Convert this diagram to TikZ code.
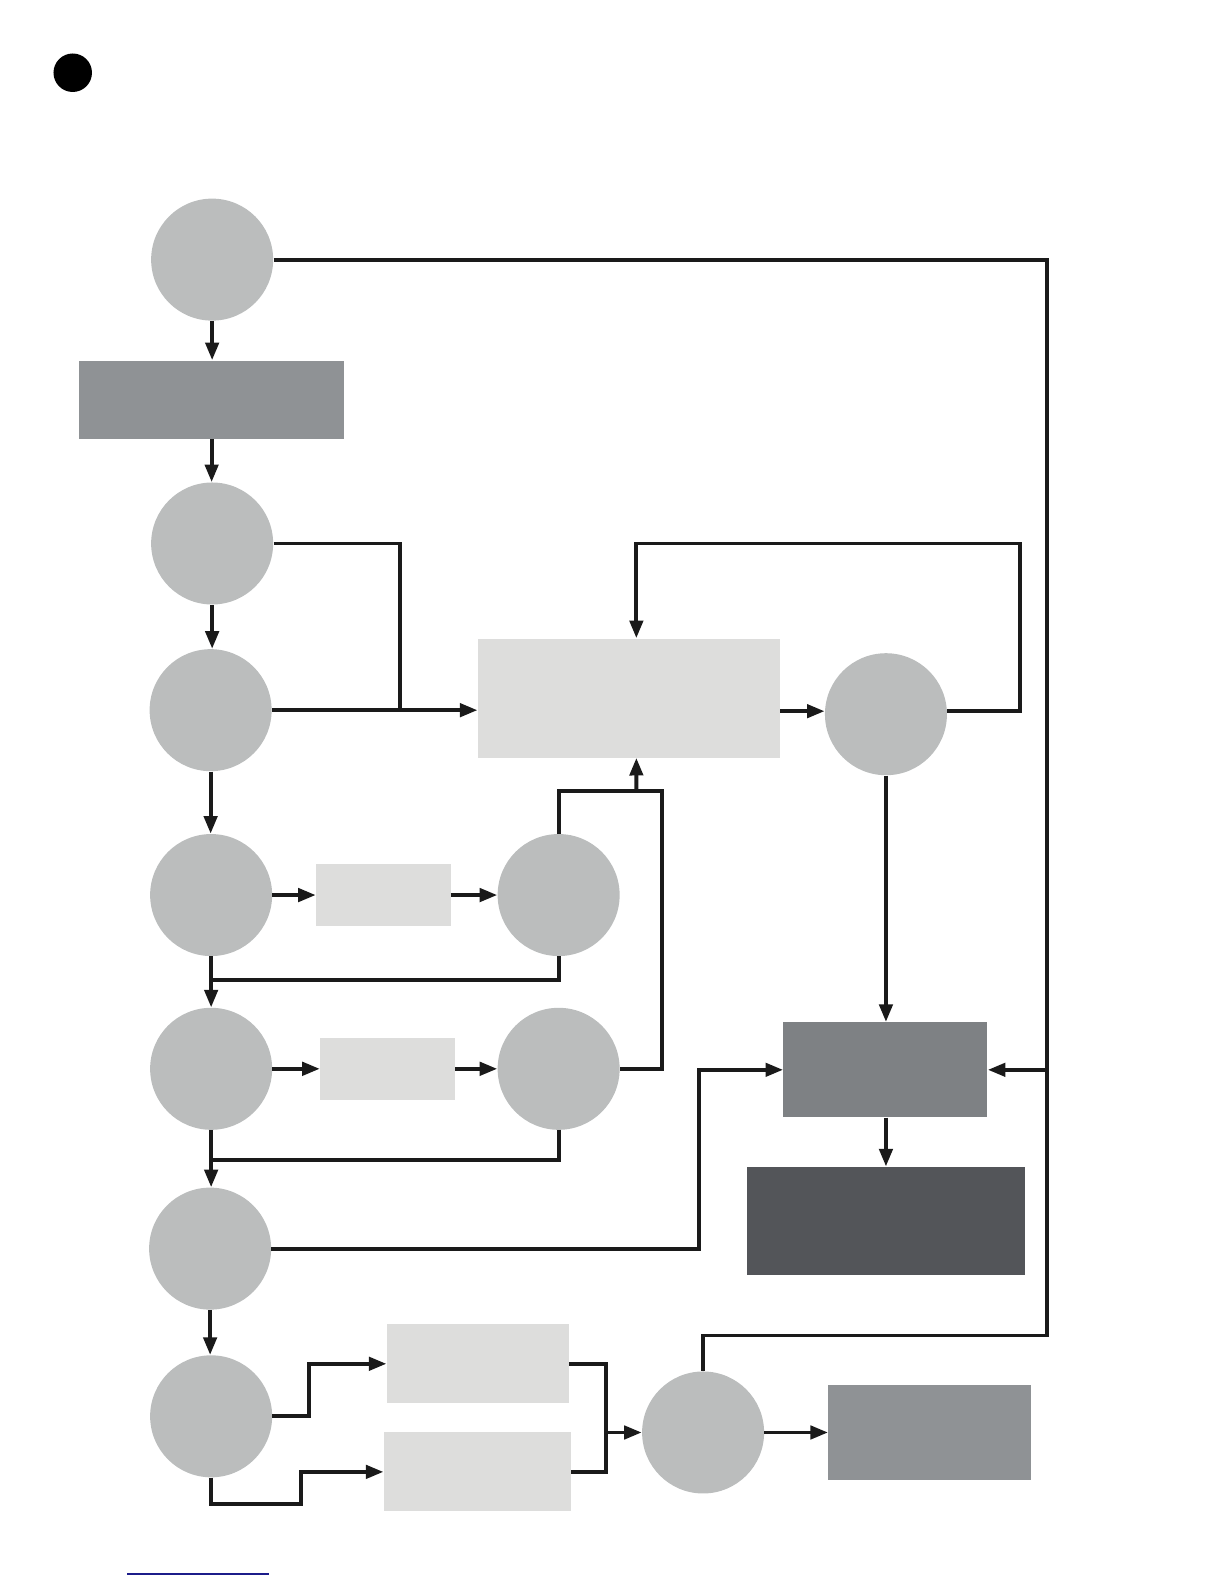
\documentclass[tikz,border=0pt]{standalone}
\usepackage{tikz}
\usepackage{xcolor}
\usetikzlibrary{arrows.meta,positioning,calc}
\definecolor{NodeGray}{HTML}{BBBDBD}
\definecolor{PaleGray}{HTML}{DDDDDC}
\definecolor{MidGray}{HTML}{8F9295}
\definecolor{SteelGray}{HTML}{7E8184}
\definecolor{DarkGray}{HTML}{535559}
\definecolor{LineBlack}{HTML}{1A1A1A}
\definecolor{LinkBlue}{HTML}{1C1C8A}
\tikzset{
  stage/.style={circle,fill=NodeGray,minimum size=2.44cm,inner sep=0pt},
  pbox/.style={rectangle,fill=PaleGray,inner sep=0pt},
  mbox/.style={rectangle,fill=MidGray,inner sep=0pt},
  sbox/.style={rectangle,fill=SteelGray,inner sep=0pt},
  dbox/.style={rectangle,fill=DarkGray,inner sep=0pt},
  wire/.style={LineBlack,line width=2.2pt},
  arr/.style={-{Triangle[length=10pt,width=7.5pt]},LineBlack,line width=2.2pt},
}

\begin{document}
\begin{tikzpicture}[x=0.0202cm,y=-0.0202cm]
        \useasboundingbox (0,0) rectangle (1212,1568);
        \node[circle,fill=black,minimum size=0.77cm,inner sep=0pt] (dot) at (72,72) {};
        % left column
        \node[stage] (c1) at (210,257) {};
        \node[mbox,minimum width=5.31cm,minimum height=1.56cm] (r1) at (209.5,395.5) {};
        \node[stage] (c2) at (210,538) {};
        \node[stage] (c3) at (208.5,703) {};
        \node[stage] (c4) at (209,886) {};
        \node[stage] (c5) at (209,1058) {};
        \node[stage] (c6) at (208,1236) {};
        \node[stage] (c7) at (209,1402) {};
        % middle and right
        \node[pbox,minimum width=6.04cm,minimum height=2.38cm] (r2) at (622.5,691) {};
        \node[stage] (d3) at (877,707) {};
        \node[pbox,minimum width=2.69cm,minimum height=1.23cm] (r5) at (379.5,886) {};
        \node[stage] (d1) at (553,886) {};
        \node[pbox,minimum width=2.69cm,minimum height=1.23cm] (r6) at (383.5,1058) {};
        \node[stage] (d2) at (553,1058) {};
        \node[sbox,minimum width=4.08cm,minimum height=1.90cm] (r3) at (876.5,1059) {};
        \node[dbox,minimum width=5.56cm,minimum height=2.16cm] (r4) at (877.5,1208.5) {};
        \node[pbox,minimum width=3.64cm,minimum height=1.58cm] (r7) at (473,1350) {};
        \node[pbox,minimum width=3.74cm,minimum height=1.58cm] (r8) at (472.5,1457) {};
        \node[stage] (d4) at (696,1418) {};
        \node[mbox,minimum width=4.06cm,minimum height=1.90cm] (r9) at (920.5,1418) {};
        % bend points
        \coordinate (j1) at (396,703);
        \coordinate (fb) at (1010,538);
        \coordinate (rm) at (1036,1059);
        \coordinate (rb) at (1036,1322);
        \coordinate (m1) at (630,783);
        \coordinate (m2) at (655,783);
        \coordinate (k1) at (209,970);
        \coordinate (k2) at (209,1148);
        \coordinate (g1) at (692,1236);
        \coordinate (h1) at (306,1402);
        \coordinate (h2) at (298,1489);
        \coordinate (mg) at (600,1418);
        % connectors
        \draw[arr] (c1.south)--(c1.south |- r1.north);
        \draw[arr] (r1.south)--(r1.south |- c2.north);
        \draw[arr] (c2.south)--(c2.south |- c3.north);
        \draw[arr] (c3.south)--(c3.south |- c4.north);
        \draw[arr] (c4)--(c5);
        \draw[arr] (c5.south)--(c5.south |- c6.north);
        \draw[arr] (c6.south)--(c6.south |- c7.north);
        \draw[wire] (c2.east) -| (j1);
        \draw[arr] (c3.east) -- (c3.east -| r2.west);
        \draw[arr] (r2.east |- 0,704) -- (d3.west |- 0,704);
        \draw[arr] (d3.east |- 0,704) -| (fb) -| ([xshift=0.15cm]r2.north);
        \draw[arr] (d3.south) -- (d3.south |- r3.north);
        \draw[arr] (r3.south -| d3) -- (r4.north -| d3);
        \draw[arr] (c1.east) -| (rm) -- (r3.east);
        \draw[wire] (d4.north) |- (rb) -- (rm);
        \draw[arr] (c4) -- (r5);
        \draw[arr] (r5) -- (d1);
        \draw[wire] (d1.north) |- (m1);
        \draw[wire] (d2.east) -| (m2) -- (m1);
        \draw[arr] (m1) -- ([xshift=0.15cm]r2.south);
        \draw[wire] (d1.south) |- (k1);
        \draw[arr] (c5) -- (r6);
        \draw[arr] (r6) -- (d2);
        \draw[wire] (d2.south) |- (k2);
        \draw[arr] (c6.east) -- (g1) |- (r3.west);
        \draw[arr] (c7.east) -- (h1) |- (r7.west);
        \draw[arr] (c7.south) |- (h2) |- (r8.west);
        \draw[wire] (r7.east) -| (mg);
        \draw[wire] (r8.east) -| (mg);
        \draw[arr] (mg) -- (d4.west);
        \draw[arr] (d4) -- (r9);
        \draw[LinkBlue,line width=0.8pt] (126,1558) -- (266,1558);
      \end{tikzpicture}
\end{document}
